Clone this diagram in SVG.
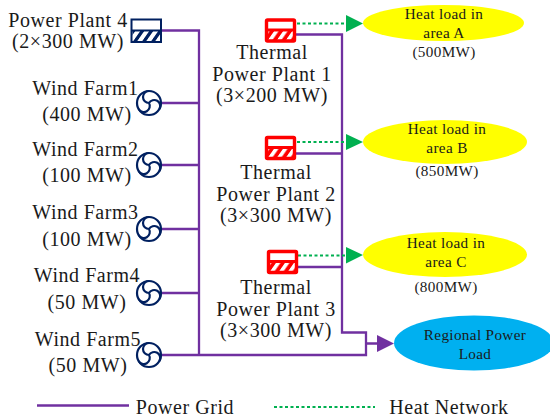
<svg xmlns="http://www.w3.org/2000/svg" width="550" height="420" viewBox="0 0 550 420">
<style>
text{font-family:"Liberation Serif","Times New Roman",serif;fill:#1a1a1a;text-anchor:middle}
.l{font-size:20px;letter-spacing:.55px}
.s{font-size:15.2px;letter-spacing:.35px}
.g{fill:none;stroke:#7030a0;stroke-width:2.3}
.h{fill:none;stroke:#00b050;stroke-width:2;stroke-dasharray:3 2.5}
.wc{fill:#fff;stroke:#002060;stroke-width:2.2}
.wp{fill:none;stroke:#002060;stroke-width:2.2}
</style>
<defs>
<pattern id="hb" width="9" height="11" patternUnits="userSpaceOnUse" patternTransform="skewX(-35)"><rect width="9" height="11" fill="#fff"/><rect width="4" height="11" fill="#002060"/></pattern>
<pattern id="hr" width="9" height="11" patternUnits="userSpaceOnUse" patternTransform="skewX(-35)"><rect width="9" height="11" fill="#f00"/><rect width="4.500" height="11" fill="#fff"/></pattern>
<g id="w"><circle class="wc" r="12"/><path class="wp" d="M0 0A6 6 0 0 1 0-12M0 0A6 6 0 0 1 10.400 6M0 0A6 6 0 0 1-10.400 6"/></g>
<g id="t"><rect x="1.500" y="1.500" width="28" height="21" fill="#fff" rx="1"/><rect x="2" y="12" width="27" height="10" fill="url(#hr)"/><path d="M1 11.500H30" stroke="#f00" stroke-width="3"/><rect x="1.500" y="1.500" width="28" height="21" fill="none" stroke="#f00" stroke-width="3.400" rx="1"/></g>
</defs>
<g id="connectors">
<path class="g" d="M161 30.500H199V355M161 103H199M161 165H199M161 229H199M161 293H199M161 355H366V332.500H342V34.500H296M296 153.500H342M298 267H342M366 343.500H380"/>
<polygon points="377,335 394,343.500 377,352" fill="#7030a0"/>
<path class="h" d="M297 23.500H349M297 142H349M298 255.500H349"/>
<polygon points="346,15 363,23.500 346,32" fill="#00b050"/>
<polygon points="346,134 363,142 346,150" fill="#00b050"/>
<polygon points="346,247 363,255 346,263.500" fill="#00b050"/>
</g>
<g id="plant4"><rect x="131.500" y="19.500" width="29.500" height="22.500" fill="#fff"/><rect x="132.500" y="31" width="27.500" height="10" fill="url(#hb)"/><path d="M131 30.500H161" stroke="#002060" stroke-width="2"/><rect x="131.500" y="19.500" width="29.500" height="22.500" fill="none" stroke="#002060" stroke-width="2"/><text class="l" x="68" y="27">Power Plant 4</text><text class="l" x="68" y="48">(2×300 MW)</text></g>
<g id="wind1"><use href="#w" x="149" y="103"/><text class="l" x="85.500" y="95">Wind Farm1</text><text class="l" x="87" y="121">(400 MW)</text></g>
<g id="wind2"><use href="#w" x="149" y="165"/><text class="l" x="85.500" y="156">Wind Farm2</text><text class="l" x="87" y="182">(100 MW)</text></g>
<g id="wind3"><use href="#w" x="149" y="229"/><text class="l" x="85.500" y="219">Wind Farm3</text><text class="l" x="87" y="246">(100 MW)</text></g>
<g id="wind4"><use href="#w" x="149" y="293"/><text class="l" x="87" y="282">Wind Farm4</text><text class="l" x="87" y="309">(50 MW)</text></g>
<g id="wind5"><use href="#w" x="149" y="355"/><text class="l" x="88" y="346">Wind Farm5</text><text class="l" x="88" y="372">(50 MW)</text></g>
<g id="thermal1"><use href="#t" x="265" y="18.500"/><text class="l" x="272" y="59">Thermal</text><text class="l" x="272" y="81">Power Plant 1</text><text class="l" x="272" y="102">(3×200 MW)</text></g>
<g id="thermal2"><use href="#t" x="265" y="136"/><text class="l" x="276" y="179">Thermal</text><text class="l" x="276" y="201">Power Plant 2</text><text class="l" x="276" y="222">(3×300 MW)</text></g>
<g id="thermal3"><use href="#t" x="267" y="250"/><text class="l" x="276" y="294">Thermal</text><text class="l" x="276" y="316">Power Plant 3</text><text class="l" x="276" y="337">(3×300 MW)</text></g>
<g id="heatA"><ellipse cx="443.500" cy="23" rx="80.500" ry="18" fill="#ff0"/><text class="s" x="444" y="19">Heat load in</text><text class="s" x="444" y="38">area A</text><text class="s" x="444" y="57">(500MW)</text></g>
<g id="heatB"><ellipse cx="445" cy="142" rx="82" ry="22" fill="#ff0"/><text class="s" x="447" y="134">Heat load in</text><text class="s" x="447" y="153">area B</text><text class="s" x="447" y="176">(850MW)</text></g>
<g id="heatC"><ellipse cx="445" cy="254.500" rx="82" ry="22.500" fill="#ff0"/><text class="s" x="446" y="248">Heat load in</text><text class="s" x="446" y="267">area C</text><text class="s" x="446" y="292">(800MW)</text></g>
<g id="load"><ellipse cx="474" cy="343" rx="80" ry="27.500" fill="#00b0f0"/><text class="s" x="475" y="340">Regional Power</text><text class="s" x="475" y="359">Load</text></g>
<g id="legend"><path class="g" d="M37 405.500H129"/><text class="l" x="185" y="414">Power Grid</text><path class="h" d="M274 407H375"/><text class="l" x="449" y="414">Heat Network</text></g>
</svg>
